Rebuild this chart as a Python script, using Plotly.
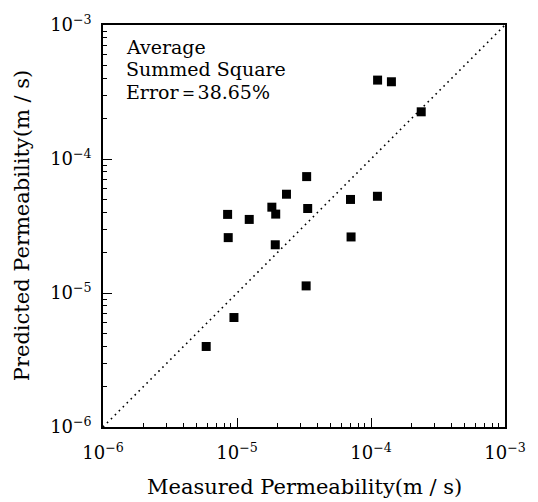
import plotly.graph_objects as go

measured = [5.89e-6, 9.49e-6, 8.51e-6, 1.234e-5, 8.6e-6, 1.82e-5, 1.945e-5, 1.93e-5,
            2.34e-5, 3.31e-5, 3.37e-5, 3.28e-5, 7.03e-5, 7.1e-5, 1.117e-4, 1.12e-4,
            1.42e-4, 2.37e-4]
predicted = [3.99e-6, 6.56e-6, 3.86e-5, 3.54e-5, 2.59e-5, 4.37e-5, 3.88e-5, 2.29e-5,
             5.46e-5, 7.39e-5, 4.27e-5, 1.13e-5, 4.99e-5, 2.62e-5, 5.27e-5, 3.88e-4,
             3.77e-4, 2.25e-4]
line_ends = [1e-6, 1e-3]
tick_vals = [1e-6, 1e-5, 1e-4, 1e-3]
tick_text = ["10<sup>−6</sup>", "10<sup>−5</sup>", "10<sup>−4</sup>", "10<sup>−3</sup>"]
decades = [1e-6, 1e-5, 1e-4]
minor_mults = [2, 3, 4, 5, 6, 7, 8, 9]
minor_vals = [d * m for d in decades for m in minor_mults]
note_lines = ["Average", "Summed Square", "Error＝38.65%"]
x_title = "Measured Permeability(m / s)"
y_title = "Predicted Permeability(m / s)"

FONT = "DejaVu Serif"

fig = go.Figure()
fig.add_trace(go.Scatter(x=line_ends, y=line_ends, mode="lines",
                         line=dict(color="black", width=1.6, dash="1.6px,4px"),
                         hoverinfo="skip", showlegend=False))
fig.add_trace(go.Scatter(x=measured, y=predicted, mode="markers",
                         marker=dict(symbol="square", size=9, color="black"),
                         showlegend=False))

axis_common = dict(
    type="log", range=[-6, -3], tickvals=tick_vals, ticktext=tick_text,
    showgrid=False, zeroline=False, showline=True, linecolor="black", linewidth=1.5,
    mirror=True, ticks="inside", ticklen=9, tickwidth=1, tickcolor="black",
    minor=dict(ticks="inside", tickvals=minor_vals, ticklen=4, tickwidth=1,
               tickcolor="black", showgrid=False),
    tickfont=dict(family=FONT, size=18, color="black"),
)
fig.update_xaxes(**axis_common, ticklabelstandoff=9)
fig.update_yaxes(**axis_common, ticklabelstandoff=6)

annotations = []
for i, t in enumerate(note_lines):
    annotations.append(dict(xref="paper", yref="paper", x=0.053, y=1 - (22 + 22.5 * i) / 404,
                            xanchor="left", yanchor="middle", text=t, showarrow=False,
                            font=dict(family=FONT, size=19, color="black")))
annotations.append(dict(xref="paper", yref="paper", x=0.5, y=-60 / 404, xanchor="center",
                        yanchor="middle", text=x_title, showarrow=False,
                        font=dict(family=FONT, size=21, color="black")))
annotations.append(dict(xref="paper", yref="paper", x=-83 / 413, y=0.5, xanchor="center",
                        yanchor="middle", text=y_title, showarrow=False, textangle=-90,
                        font=dict(family=FONT, size=21, color="black")))

fig.update_layout(
    width=538, height=502,
    margin=dict(l=103, r=22, t=23, b=75),
    paper_bgcolor="white", plot_bgcolor="white",
    annotations=annotations,
    font=dict(family=FONT, color="black"),
)

fig.write_html("out.html")
